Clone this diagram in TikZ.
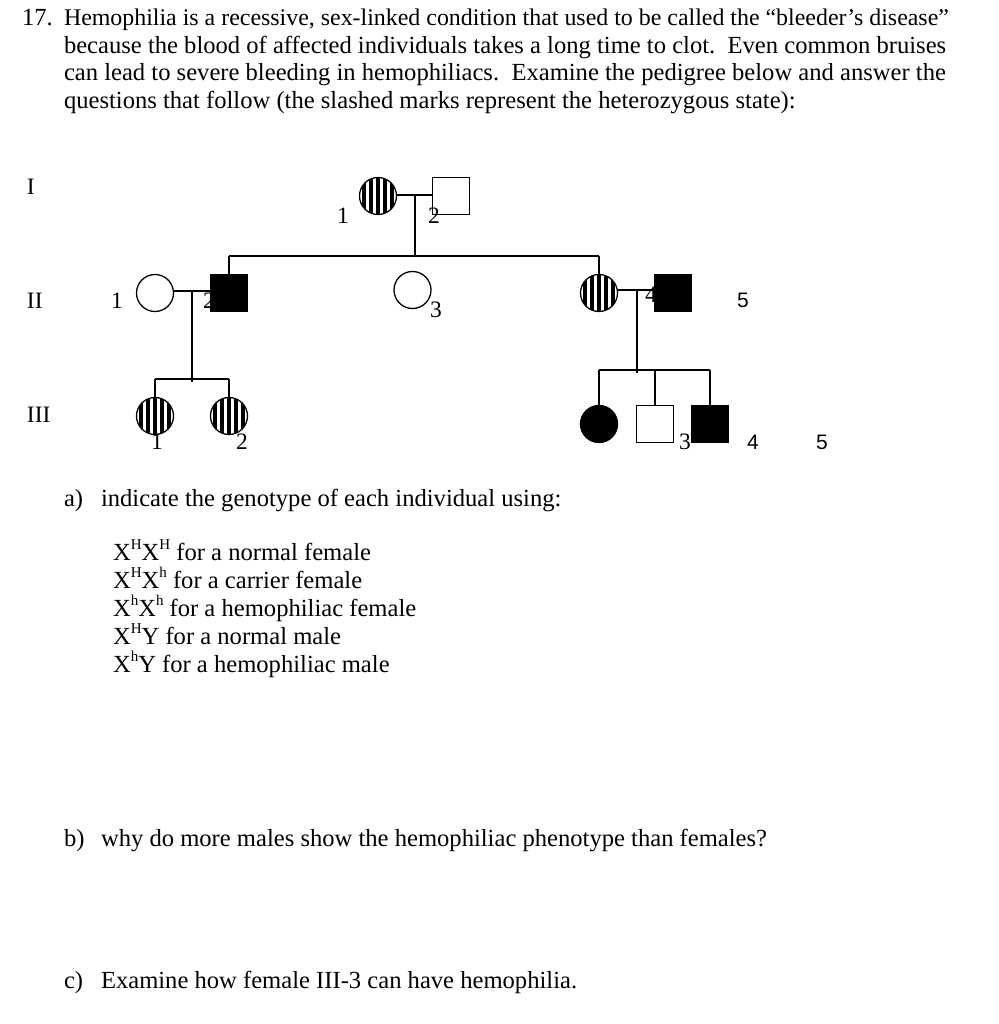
\documentclass[tikz,border=0pt]{standalone}
\usepackage{fontspec}
\setmainfont{Liberation Serif}
\newfontfamily\sansfnt{Liberation Sans}
\newcommand{\gsup}[1]{\raisebox{0.42em}{\fontsize{15}{15}\selectfont #1}}
\begin{document}
\begin{tikzpicture}[x=1pt,y=-1pt,line width=1.3pt,
  every node/.style={inner sep=0pt,outer sep=0pt},
  txt/.style={anchor=base west,font=\fontsize{24.6}{28}\selectfont},
  lbl/.style={anchor=base west,font=\fontsize{23.5}{27.5}\selectfont},
  slbl/.style={anchor=base west,font=\sansfnt\fontsize{21}{24}\selectfont},
  female/.style={circle,draw,minimum size=37pt},
  male/.style={rectangle,draw,minimum size=37pt},
  affected/.style={fill=black},
  carrier/.style={path picture={
     \foreach \k in {-14,-7,0,7,14}
       \fill ([xshift=\k pt-1.9pt,yshift=-25pt]path picture bounding box.center) rectangle ++(3.8pt,50pt);}},
  rel/.style={line width=1.3pt}]
\useasboundingbox (0,0) rectangle (998,1024);

% Intro text
\node[txt] (t0) at (22,26) {17.};
\node[txt,font=\fontsize{23.9}{28}\selectfont] (t1) at (64,26) {Hemophilia is a recessive, sex-linked condition that used to be called the “bleeder’s disease”};
\node[txt] (t2) at (64,53.5) {because the blood of affected individuals takes a long time to clot.\ \ Even common bruises};
\node[txt] (t3) at (64,81) {can lead to severe bleeding in hemophiliacs.\ \ Examine the pedigree below and answer the};
\node[txt] (t4) at (64,108.5) {questions that follow (the slashed marks represent the heterozygous state):};

% Generation labels
\node[lbl] (gI) at (27,195) {I};
\node[lbl] (gII) at (27,308) {II};
\node[lbl] (gIII) at (27,422) {III};

% Generation I
\node[female,carrier] (I1) at (378,196) {};
\node[male] (I2) at (451,196) {};
\node[lbl] (lI1) at (337,223) {1};
\node[lbl] (lI2) at (428,223) {2};
\coordinate (mI) at (415,195);
\coordinate (sII) at (415,256);
\draw[rel] (I1.east |- mI) -- (I2.west |- mI);
\draw[rel] (mI) -- (sII);

% Generation II
\node[female] (II1) at (155,293) {};
\node[male,affected] (II2) at (229,293) {};
\node[female] (II3) at (412.5,290) {};
\node[female,carrier] (II4) at (599,293) {};
\node[male,affected] (II5) at (673,293) {};
\node[lbl] (lII1) at (111,308) {1};
\node[lbl] (lII2) at (203,308) {2};
\node[lbl] (lII3) at (430,317) {3};
\node[lbl] (lII5) at (645,302) {4};
\node[slbl] (lII6) at (737,307) {5};

\draw[rel] (II2.north |- sII) -- (II4.north |- sII);
\draw[rel] (II2.north |- sII) -- (II2.north);
\draw[rel] (II4.north |- sII) -- (II4.north);

\coordinate (mIIa) at (192,291);
\coordinate (mIIb) at (637,290);
\draw[rel] (II1.east |- mIIa) -- (II2.west |- mIIa);
\draw[rel] (II4.east |- mIIb) -- (II5.west |- mIIb);

% Generation III (left family)
\node[female,carrier] (III1) at (155,416) {};
\node[female,carrier] (III2) at (229,416) {};
\node[lbl] (lIII1) at (151,449) {1};
\node[lbl] (lIII2) at (236,449) {2};
\coordinate (sIIIa) at (192,379);
\draw[rel] (mIIa) -- ++(0,91);
\draw[rel] (III1.north |- sIIIa) -- (III2.north |- sIIIa);
\draw[rel] (III1.north |- sIIIa) -- (III1.north);
\draw[rel] (III2.north |- sIIIa) -- (III2.north);

% Generation III (right family)
\node[female,affected] (III3) at (599,424) {};
\node[male] (III4) at (655,424) {};
\node[male,affected] (III5) at (710,424) {};
\node[lbl] (lIII3) at (679,449) {3};
\node[slbl] (lIII4) at (747,449) {4};
\node[slbl] (lIII5) at (816,449) {5};
\coordinate (sIIIb) at (637,370);
\draw[rel] (mIIb) -- ++(0,83);
\draw[rel] (III3.north |- sIIIb) -- (III5.north |- sIIIb);
\draw[rel] (III3.north |- sIIIb) -- (III3.north);
\draw[rel] (III4.north |- sIIIb) -- (III4.north);
\draw[rel] (III5.north |- sIIIb) -- (III5.north);

% Questions
\node[txt] (qa) at (64,506) {a)};
\node[txt] (qat) at (101,506) {indicate the genotype of each individual using:};
\node[txt] (g1) at (113,560) {X\gsup{H}X\gsup{H} for a normal female};
\node[txt] (g2) at (113,588) {X\gsup{H}X\gsup{h} for a carrier female};
\node[txt] (g3) at (113,616) {X\gsup{h}X\gsup{h} for a hemophiliac female};
\node[txt] (g4) at (113,644) {X\gsup{H}Y for a normal male};
\node[txt] (g5) at (113,672) {X\gsup{h}Y for a hemophiliac male};
\node[txt] (qb) at (64,846) {b)};
\node[txt] (qbt) at (101,846) {why do more males show the hemophiliac phenotype than females?};
\node[txt] (qc) at (64,988) {c)};
\node[txt] (qct) at (101,988) {Examine how female III-3 can have hemophilia.};
\end{tikzpicture}
\end{document}
